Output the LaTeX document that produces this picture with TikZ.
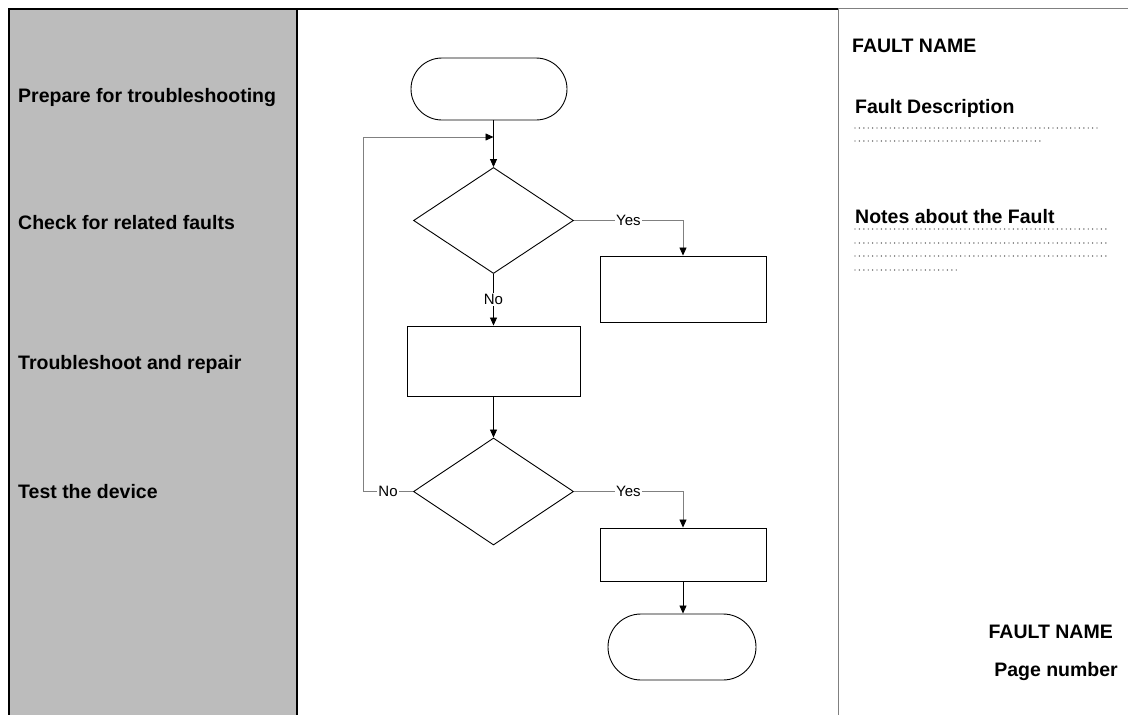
\documentclass[tikz,border=0pt]{standalone}
\usepackage{fontspec}
\setmainfont{Liberation Sans}
\usetikzlibrary{shapes.geometric,arrows.meta}
\definecolor{panelgray}{RGB}{188,188,188}
\definecolor{linegray}{RGB}{128,128,128}
\begin{document}
\begin{tikzpicture}[x=1pt,y=-1pt,
  lbl/.style={font=\fontsize{19.5}{23}\selectfont\bfseries, anchor=base west, inner sep=0pt},
  rlbl/.style={font=\fontsize{19.5}{23}\selectfont\bfseries, anchor=base east, inner sep=0pt},
  term/.style={draw, line width=0.9pt, rectangle, inner sep=0pt},
  proc/.style={draw, line width=0.9pt, rectangle, inner sep=0pt},
  dec/.style={draw, line width=0.9pt, diamond, inner sep=0pt, minimum width=160pt, minimum height=106pt},
  arr/.style={-{Triangle[length=8pt,width=7pt]}, line width=0.8pt},
  grayarr/.style={-{Triangle[length=8pt,width=7pt,color=black]}, line width=0.8pt, draw=linegray},
  yn/.style={font=\fontsize{15}{17}\selectfont, fill=white, inner sep=1.5pt},
  dots/.style={line width=1.4pt, line cap=round, dash pattern=on 0pt off 4.4pt, draw=black!75}
]
\useasboundingbox (0,0) rectangle (1128,715);
\fill[white] (0,0) rectangle (1128,715);

% left panel
\fill[panelgray] (9,9) rectangle (297,716);
\draw[line width=2.6pt] (9,716) -- (9,9) -- (838,9);
\draw[line width=2.6pt] (297,9) -- (297,716);
% right separator
\draw[linegray, line width=1pt] (838,9) -- (838,716);
\draw[linegray, line width=1pt] (838,8.5) -- (1128,8.5);

% left labels
\node[lbl] (l1) at (18,102) {Prepare for troubleshooting};
\node[lbl] (l2) at (18,229) {Check for related faults};
\node[lbl] (l3) at (18,369) {Troubleshoot and repair};
\node[lbl] (l4) at (18,498) {Test the device};

% right texts
\node[lbl] (fn) at (852,52) {FAULT NAME};
\node[lbl] (fd) at (855,113) {Fault Description};
\node[lbl] (nf) at (855,223) {Notes about the Fault};
\draw[dots] (855,128) -- (1098,128);
\draw[dots] (855,141) -- (1043,141);
\draw[dots] (855,229) -- (1109,229);
\draw[dots] (855,243) -- (1109,243);
\draw[dots] (855,256) -- (1109,256);
\draw[dots] (855,270) -- (959,270);
\node[rlbl] (fn2) at (1113,638) {FAULT NAME};
\node[rlbl] (pn) at (1118,676) {Page number};

% flowchart
\node[term, minimum width=156pt, minimum height=62pt, rounded corners=31pt] (start) at (489,89) {};
\node[dec] (d1) at (493.5,220.5) {};
\node[proc, minimum width=166pt, minimum height=66pt] (b1) at (683,289) {};
\node[proc, minimum width=173pt, minimum height=70pt] (b2) at (493.5,361) {};
\node[dec, minimum height=107pt] (d2) at (493.5,491.5) {};
\node[proc, minimum width=166pt, minimum height=53pt] (b3) at (683,554.5) {};
\node[term, minimum width=148pt, minimum height=66pt, rounded corners=33pt] (stop) at (682,647) {};

\coordinate (loopin) at (493.5,137);

\draw[arr] (start.south -| d1.north) -- (d1.north);
\draw[grayarr] (d1.east) -- node[yn, pos=0.5] {Yes} (d1.east -| b1.north) -- (b1.north);
\draw[arr] (d1.south) -- node[yn, pos=0.5] {No} (b2.north);
\draw[arr] (b2.south) -- (d2.north);
\draw[grayarr] (d2.east) -- node[yn, pos=0.5] {Yes} (d2.east -| b3.north) -- (b3.north);
\draw[grayarr] (d2.west) -- node[yn, pos=0.5] {No} (363,491.5) -- (363,137) -- (loopin);
\draw[arr] (b3.south) -- (b3.south |- stop.north);
\end{tikzpicture}
\end{document}
